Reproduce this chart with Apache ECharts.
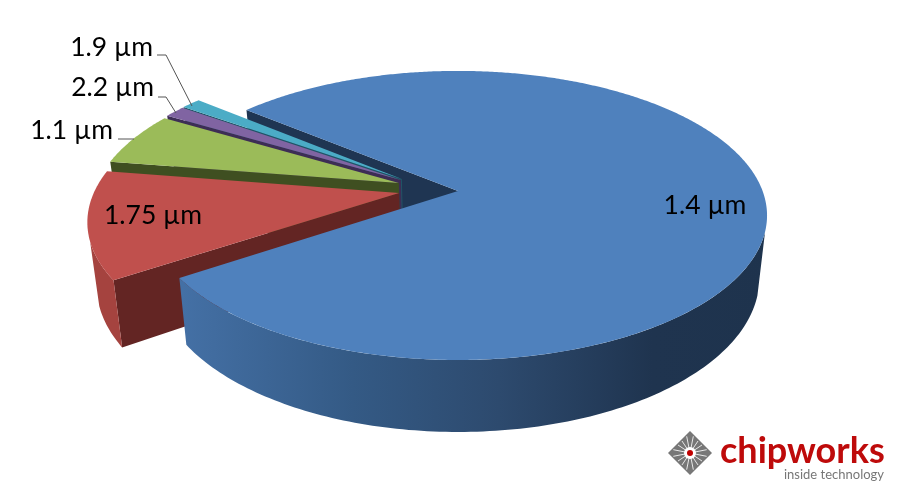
<!DOCTYPE html>
<html><head><meta charset="utf-8">
<style>html,body{margin:0;padding:0;background:#fff}#c{width:900px;height:500px}</style>
<script src="https://cdn.jsdelivr.net/npm/echarts@6/dist/echarts.min.js"></script>
</head><body><div id="c"></div>
<script>
// ---- data
var categories = ['1.4 µm', '1.75 µm', '1.1 µm', '2.2 µm', '1.9 µm'];
var shares = [79.5, 12.0, 6.0, 1.3, 1.2];

// ---- layout and style
var START_ANGLE = 219.7;
var CX = 458, CY = 191, RX = 304.6, RY = 140.4, PERSP = 0.169;
var BOTTOM_X = 0.975, BOTTOM_Y = 1.0625, BOTTOM_DY = 49.5;
var explode = [[0, 0], [-0.193, 0.014], [-0.196, -0.058], [-0.19, -0.079], [-0.187, -0.087]];
var topColors = ['#4F81BD', '#C0504D', '#9BBB59', '#8064A2', '#4BACC6'];
var wallColors = ['#1F3552', '#632523', '#3F4F21', '#3D2D55', '#1F5566'];
var layerOrder = [5, 4, 3, 2, 1];
var BLUE_WALL_FROM = 376, RED_WALL_TO = 161;
var labelPos = [[705, 205, 'center'], [153, 215, 'center'], [113, 130, 'right'], [154, 87, 'right'], [153, 47, 'right']];
var leaders = [null, null, [[118, 139], [134, 139]], [[158, 97], [166, 97], [176, 113]], [[157, 55], [166, 55], [192, 106]]];
var blueX0 = 182, blueX1 = 770;
var blueStops = [
  { offset: 0, color: '#4470A5' }, { offset: 0.29, color: '#345A85' },
  { offset: 0.54, color: '#2D4A6E' }, { offset: 0.8, color: '#1F344F' }, { offset: 1, color: '#1E334D' }
];

function proj(px, py) {
  var w = 1 - PERSP * py;
  return [CX + RX * px / w, CY + RY * py / w];
}
function drop(p) {
  return [CX + (p[0] - CX) * BOTTOM_X, BOTTOM_Y * p[1] + BOTTOM_DY];
}
function rim(off, deg) {
  var a = deg * Math.PI / 180;
  return proj(off[0] + Math.cos(a), off[1] + Math.sin(a));
}
var total = shares.reduce(function (a, b) { return a + b; }, 0);

function renderSlice(params, api) {
  var idx = params.dataIndex;
  var before = 0;
  for (var i = 0; i < idx; i++) before += shares[i];
  var value = api.value(0);
  var a0 = START_ANGLE + before / total * 360;
  var a1 = a0 + value / total * 360;
  var off = explode[idx];
  var apex = proj(off[0], off[1]);
  var layer = layerOrder[idx];
  var kids = [];

  function poly(points, fill, z2) {
    kids.push({ type: 'polygon', z2: z2, silent: true, shape: { points: points }, style: { fill: fill } });
  }
  // radial wall on the starting edge
  var edge = rim(off, a0);
  poly([apex, edge, drop(edge), drop(apex)], wallColors[idx], idx === 0 ? 0 : layer * 10);

  // outer wall, only the part that faces the viewer
  if (idx < 2) {
    var from = idx === 0 ? BLUE_WALL_FROM : a0;
    var to = idx === 0 ? a1 : RED_WALL_TO + 360;
    var n = Math.ceil(to - from), up = [], down = [];
    for (var q = 0; q <= n; q++) {
      var p = rim(off, from + (to - from) * q / n);
      up.push(p);
      down.unshift(drop(p));
    }
    var fill = idx === 0
      ? new echarts.graphic.LinearGradient(blueX0, 0, blueX1, 0, blueStops, true)
      : '#A5433F';
    poly(up.concat(down), fill, layer * 10 + 1);
  }
  // top face
  var pts = [apex];
  var steps = Math.ceil(a1 - a0) * 2;
  for (var s = 0; s <= steps; s++) pts.push(rim(off, a0 + (a1 - a0) * s / steps));
  poly(pts, topColors[idx], layer * 10 + 2);

  // leader line and label
  if (leaders[idx]) {
    kids.push({ type: 'polyline', z2: 100, silent: true, shape: { points: leaders[idx] },
      style: { fill: null, stroke: '#555', lineWidth: 1 } });
  }
  var lp = labelPos[idx];
  kids.push({ type: 'text', z2: 101, silent: true, x: lp[0], y: lp[1],
    style: { text: categories[idx], fontFamily: 'Lato', fontSize: 26.5, fill: '#000',
      textAlign: lp[2], textVerticalAlign: 'middle' } });
  return { type: 'group', children: kids };
}

// ---- logo decoration
var logoKids = [];
var LX = 690, LY = 453, LH = 22;
logoKids.push({ type: 'polygon', shape: { points: [[LX, LY - LH], [LX + LH, LY], [LX, LY + LH], [LX - LH, LY]] },
  style: { fill: '#777' } });
for (var r = 0; r < 16; r++) {
  var ang = r * Math.PI / 8 + Math.PI / 16;
  var ex = 20 / (Math.abs(Math.cos(ang)) + Math.abs(Math.sin(ang)));
  logoKids.push({ type: 'line', shape: { x1: LX + 5 * Math.cos(ang), y1: LY + 5 * Math.sin(ang), x2: LX + ex * Math.cos(ang), y2: LY + ex * Math.sin(ang) },
    style: { stroke: '#e8e8e8', lineWidth: 1 } });
}
logoKids.push({ type: 'circle', shape: { cx: LX, cy: LY, r: 6 }, style: { fill: '#fff' } });
logoKids.push({ type: 'circle', shape: { cx: LX, cy: LY, r: 3 }, style: { fill: '#C00000' } });
logoKids.push({ type: 'text', x: 720, y: 451, style: { text: 'chipworks', fontFamily: 'Lato', fontWeight: 700, fontSize: 36, fill: '#BE0A0A', textAlign: 'left', textVerticalAlign: 'middle' } });
logoKids.push({ type: 'text', x: 884, y: 475, style: { text: 'inside technology', fontFamily: 'Lato', fontSize: 13, fill: '#777', textAlign: 'right', textVerticalAlign: 'middle' } });

var chart = echarts.init(document.getElementById('c'), null, { renderer: 'canvas' });
chart.setOption({
  backgroundColor: '#fff',
  animation: false,
  graphic: { elements: logoKids },
  series: [{
    type: 'custom',
    coordinateSystem: 'none',
    silent: true,
    renderItem: renderSlice,
    data: shares.map(function (v, i) { return { name: categories[i], value: [v] }; })
  }]
});
</script></body></html>
